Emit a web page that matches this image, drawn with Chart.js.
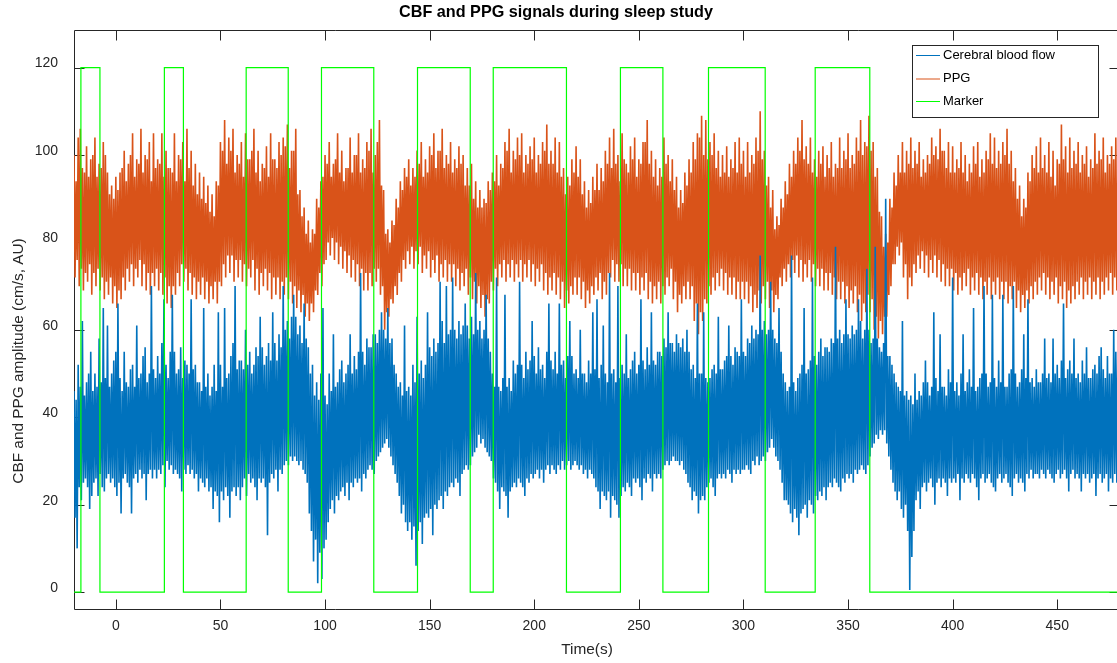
<!DOCTYPE html>
<html>
<head>
<meta charset="utf-8">
<script src="https://cdn.jsdelivr.net/npm/chart.js@4.4.1/dist/chart.umd.min.js"></script>
<style>
  html, body { margin: 0; padding: 0; background: #fff; overflow: hidden; }
  canvas { display: block; }
</style>
</head>
<body>
<canvas id="c" width="1124" height="663"></canvas>
<script>
// signal envelopes: one peak + one trough per second, from t = -20 s
const sampleStart = -20;
const sampleStep = 1;

const ppgPeaks = [
  100, 94, 104, 106, 97, 96, 102, 95, 99, 100, 104, 95, 98, 97, 103, 100, 96, 91, 93, 90,
  95, 92, 96, 97, 101, 94, 98, 100, 105, 95, 99, 98, 106, 96, 100, 99, 103, 94, 105, 97,
  99, 98, 105, 95, 101, 97, 97, 96, 105, 94, 100, 99, 103, 94, 106, 97, 101, 93, 98, 91,
  96, 90, 95, 89, 93, 87, 91, 86, 94, 93, 103, 101, 108, 98, 104, 101, 106, 96, 100, 98,
  103, 95, 105, 99, 99, 101, 106, 96, 101, 94, 98, 97, 102, 95, 105, 99, 99, 97, 103, 100,
  104, 102, 107, 97, 101, 101, 106, 91, 92, 86, 88, 82, 85, 80, 83, 82, 90, 88, 94, 95,
  100, 98, 103, 95, 98, 99, 105, 96, 101, 94, 97, 97, 104, 96, 100, 100, 105, 96, 99, 97,
  103, 101, 106, 96, 100, 103, 108, 93, 92, 82, 83, 80, 85, 84, 90, 88, 94, 92, 97, 95,
  99, 93, 97, 95, 101, 98, 103, 95, 99, 96, 102, 100, 105, 97, 101, 101, 106, 97, 100, 98,
  103, 96, 99, 97, 102, 98, 100, 93, 97, 93, 98, 90, 94, 88, 92, 88, 90, 89, 94, 92,
  96, 94, 100, 93, 98, 97, 103, 101, 106, 96, 101, 99, 104, 100, 105, 96, 100, 98, 102, 99,
  104, 96, 100, 98, 103, 101, 107, 98, 101, 98, 104, 96, 103, 95, 97, 91, 95, 93, 99, 96,
  102, 95, 99, 91, 94, 88, 92, 89, 95, 92, 98, 92, 97, 94, 101, 98, 104, 97, 106, 98,
  100, 94, 105, 99, 98, 96, 102, 99, 104, 95, 99, 98, 103, 103, 108, 98, 101, 95, 99, 93,
  97, 95, 104, 98, 100, 94, 99, 92, 95, 88, 92, 89, 96, 93, 99, 96, 103, 99, 105, 104,
  109, 100, 108, 99, 103, 100, 105, 97, 101, 95, 100, 96, 102, 95, 99, 97, 103, 96, 104, 98,
  101, 95, 103, 96, 100, 98, 104, 101, 110, 99, 101, 93, 95, 88, 92, 83, 86, 84, 90, 88,
  94, 91, 98, 95, 101, 98, 104, 101, 108, 99, 102, 98, 104, 96, 99, 95, 101, 98, 102, 95,
  100, 97, 103, 95, 98, 97, 104, 97, 101, 99, 105, 97, 100, 98, 104, 101, 108, 100, 103, 102,
  109, 101, 103, 95, 97, 87, 86, 79, 82, 80, 90, 88, 96, 93, 100, 96, 103, 96, 101, 98,
  104, 97, 101, 98, 103, 95, 99, 96, 100, 98, 104, 100, 102, 99, 106, 101, 101, 97, 103, 96,
  102, 96, 99, 97, 103, 96, 100, 94, 98, 96, 102, 98, 103, 95, 99, 96, 101, 99, 105, 98,
  104, 97, 101, 98, 103, 100, 106, 98, 101, 94, 97, 90, 93, 86, 90, 88, 96, 94, 100, 97,
  102, 96, 104, 97, 100, 96, 103, 95, 101, 93, 99, 98, 107, 99, 102, 96, 104, 97, 101, 98,
  103, 96, 100, 98, 102, 95, 99, 97, 105, 98, 101, 99, 104, 96, 100, 98, 102, 99, 104, 98
];
const ppgTroughs = [
  72, 76, 70, 74, 69, 73, 71, 75, 68, 73, 70, 74, 69, 72, 67, 71, 68, 72, 66, 70,
  65, 69, 67, 72, 69, 74, 71, 75, 70, 74, 72, 76, 70, 75, 69, 73, 68, 73, 70, 74,
  69, 73, 68, 72, 66, 70, 65, 70, 68, 73, 70, 75, 71, 74, 69, 73, 68, 72, 67, 71,
  68, 72, 67, 71, 66, 70, 67, 71, 66, 71, 70, 75, 72, 77, 73, 77, 71, 76, 72, 76,
  71, 75, 70, 74, 72, 76, 69, 74, 68, 73, 70, 74, 69, 73, 67, 72, 68, 72, 67, 71,
  68, 72, 67, 71, 66, 70, 65, 69, 64, 68, 63, 66, 62, 66, 64, 69, 68, 73, 70, 75,
  76, 80, 77, 81, 76, 80, 75, 79, 74, 78, 73, 77, 72, 76, 71, 75, 70, 74, 69, 73,
  69, 73, 70, 74, 71, 74, 68, 70, 60, 64, 63, 67, 66, 70, 68, 73, 71, 76, 74, 78,
  75, 79, 74, 78, 75, 79, 73, 77, 74, 78, 72, 76, 73, 77, 71, 75, 72, 76, 71, 75,
  71, 75, 70, 74, 69, 73, 70, 74, 68, 72, 67, 71, 66, 70, 65, 68, 63, 67, 66, 71,
  69, 74, 70, 75, 72, 76, 71, 75, 72, 76, 71, 75, 72, 76, 71, 75, 72, 76, 71, 75,
  70, 74, 71, 75, 69, 73, 68, 72, 69, 73, 68, 72, 67, 71, 65, 69, 66, 70, 68, 72,
  68, 72, 67, 71, 65, 69, 66, 70, 68, 72, 69, 73, 67, 71, 68, 73, 72, 76, 71, 75,
  71, 75, 70, 74, 70, 74, 69, 73, 69, 73, 68, 72, 69, 73, 67, 71, 66, 70, 67, 71,
  66, 70, 68, 72, 70, 74, 67, 71, 64, 68, 66, 70, 67, 71, 67, 70, 62, 66, 59, 64,
  62, 67, 66, 70, 68, 72, 69, 73, 70, 74, 69, 73, 68, 72, 68, 72, 67, 71, 67, 71,
  67, 71, 66, 70, 64, 68, 65, 69, 66, 70, 67, 71, 65, 69, 64, 68, 67, 72, 70, 74,
  71, 75, 72, 76, 73, 77, 72, 76, 71, 75, 72, 76, 71, 75, 70, 74, 70, 74, 69, 73,
  69, 73, 68, 72, 67, 71, 67, 71, 66, 70, 65, 69, 66, 70, 64, 68, 62, 66, 64, 68,
  64, 67, 60, 63, 58, 62, 59, 63, 63, 68, 70, 75, 75, 79, 77, 80, 72, 75, 67, 72,
  70, 75, 73, 77, 74, 78, 73, 77, 72, 76, 73, 77, 72, 76, 71, 75, 70, 74, 70, 74,
  69, 73, 68, 72, 69, 73, 70, 74, 68, 72, 69, 73, 68, 72, 67, 71, 68, 72, 67, 71,
  68, 72, 67, 71, 67, 71, 66, 70, 67, 71, 65, 69, 64, 68, 65, 69, 66, 70, 67, 71,
  68, 72, 69, 73, 68, 72, 67, 71, 68, 72, 66, 70, 67, 71, 65, 69, 66, 70, 67, 71,
  68, 72, 67, 71, 68, 72, 67, 71, 68, 72, 67, 71, 68, 72, 69, 73, 68, 72, 69, 73
];
const cbfPeaks = [
  46, 44, 52, 47, 62, 45, 48, 50, 55, 46, 50, 47, 58, 48, 65, 49, 61, 47, 50, 53,
  55, 66, 49, 46, 55, 48, 47, 51, 52, 47, 61, 49, 50, 54, 56, 48, 50, 70, 51, 49,
  54, 50, 57, 67, 52, 49, 55, 68, 55, 50, 51, 56, 49, 53, 52, 50, 67, 51, 52, 48,
  48, 46, 65, 47, 50, 45, 47, 52, 46, 64, 52, 47, 65, 49, 50, 54, 57, 70, 51, 53,
  53, 51, 60, 52, 55, 50, 52, 56, 54, 63, 56, 52, 54, 57, 53, 64, 57, 53, 59, 56,
  70, 60, 62, 58, 63, 68, 63, 59, 61, 57, 66, 58, 56, 50, 52, 45, 48, 44, 50, 65,
  45, 43, 50, 46, 59, 47, 48, 51, 53, 48, 50, 52, 59, 50, 54, 51, 55, 73, 55, 52,
  58, 56, 56, 59, 59, 57, 60, 64, 60, 58, 65, 57, 58, 52, 50, 47, 48, 45, 61, 46,
  47, 45, 52, 48, 63, 50, 53, 49, 52, 64, 56, 54, 58, 55, 57, 71, 62, 57, 70, 59,
  60, 72, 60, 58, 62, 59, 61, 66, 61, 58, 63, 59, 73, 60, 62, 58, 60, 68, 58, 55,
  50, 47, 72, 47, 46, 49, 68, 47, 49, 46, 53, 50, 52, 71, 52, 49, 55, 51, 53, 62,
  54, 50, 56, 51, 52, 49, 55, 66, 53, 51, 55, 50, 66, 52, 53, 49, 54, 62, 54, 50,
  51, 49, 60, 50, 50, 48, 53, 50, 64, 51, 67, 49, 52, 61, 50, 48, 73, 50, 51, 48,
  70, 49, 52, 50, 59, 49, 51, 53, 55, 50, 52, 67, 53, 51, 56, 52, 64, 53, 52, 55,
  55, 54, 58, 56, 64, 57, 57, 55, 59, 57, 56, 58, 55, 60, 55, 51, 52, 49, 66, 50,
  50, 64, 49, 48, 49, 51, 52, 50, 63, 51, 51, 53, 54, 61, 54, 52, 56, 55, 54, 67,
  55, 54, 58, 57, 61, 58, 60, 59, 77, 60, 62, 59, 60, 71, 60, 58, 57, 65, 55, 50,
  48, 46, 47, 77, 48, 46, 49, 50, 52, 65, 50, 51, 53, 72, 54, 52, 55, 58, 54, 56,
  56, 55, 58, 57, 79, 58, 60, 57, 59, 67, 59, 58, 61, 59, 60, 67, 62, 58, 60, 74,
  60, 57, 58, 79, 58, 56, 55, 57, 90, 54, 54, 52, 50, 48, 47, 46, 62, 45, 46, 44,
  45, 43, 50, 44, 46, 45, 48, 53, 48, 45, 47, 64, 49, 46, 59, 47, 47, 45, 51, 48,
  72, 46, 48, 45, 50, 59, 46, 48, 51, 47, 65, 46, 47, 49, 50, 70, 50, 47, 48, 68,
  49, 47, 53, 48, 68, 47, 47, 50, 51, 70, 50, 47, 48, 51, 59, 49, 67, 48, 49, 47,
  51, 48, 48, 50, 58, 49, 50, 48, 58, 50, 52, 49, 53, 66, 49, 51, 53, 50, 58, 49,
  50, 48, 53, 50, 56, 49, 49, 51, 52, 50, 54, 56, 51, 49, 54, 50, 50, 60, 55, 57
];
const cbfTroughs = [
  17, 10, 24, 21, 25, 26, 24, 19, 22, 25, 26, 22, 27, 24, 23, 26, 27, 25, 26, 24,
  22, 25, 18, 26, 27, 25, 24, 18, 26, 27, 25, 28, 26, 27, 21, 27, 28, 26, 28, 26,
  28, 27, 29, 24, 30, 28, 29, 27, 28, 27, 26, 23, 28, 27, 29, 27, 28, 26, 27, 23,
  26, 25, 24, 26, 23, 24, 19, 23, 22, 16, 23, 21, 24, 22, 17, 23, 24, 22, 24, 21,
  24, 26, 22, 27, 25, 26, 24, 21, 26, 25, 26, 24, 13, 25, 27, 26, 28, 23, 28, 27,
  29, 30, 29, 31, 30, 31, 30, 29, 30, 28, 27, 25, 18, 14, 7, 12, 2, 9, 3, 10,
  12, 16, 19, 21, 18, 22, 21, 23, 24, 22, 25, 21, 25, 24, 26, 25, 26, 23, 27, 26,
  28, 29, 28, 27, 30, 31, 32, 33, 34, 35, 33, 31, 29, 27, 25, 22, 18, 20, 16, 14,
  16, 12, 15, 6, 14, 16, 11, 17, 18, 17, 19, 13, 20, 19, 21, 22, 19, 23, 22, 24,
  25, 24, 26, 25, 22, 27, 28, 29, 28, 29, 31, 32, 33, 36, 34, 35, 33, 32, 31, 30,
  26, 25, 23, 19, 24, 23, 22, 17, 23, 24, 25, 24, 26, 25, 24, 22, 26, 25, 27, 26,
  27, 28, 26, 28, 25, 28, 29, 27, 29, 28, 27, 29, 28, 30, 28, 29, 30, 28, 29, 30,
  29, 28, 29, 27, 28, 26, 28, 27, 26, 24, 23, 19, 23, 22, 21, 23, 17, 22, 21, 20,
  17, 22, 24, 23, 25, 24, 22, 26, 25, 26, 24, 21, 26, 25, 27, 26, 23, 27, 26, 27,
  26, 28, 29, 30, 29, 30, 31, 30, 30, 29, 30, 28, 27, 25, 24, 21, 23, 22, 18, 21,
  22, 21, 24, 25, 26, 24, 22, 26, 27, 26, 27, 26, 28, 27, 25, 28, 27, 28, 27, 28,
  28, 29, 28, 27, 30, 29, 31, 29, 30, 31, 30, 32, 33, 35, 33, 31, 30, 28, 25, 21,
  21, 20, 18, 16, 19, 17, 13, 18, 19, 20, 17, 21, 20, 18, 22, 21, 23, 22, 24, 21,
  24, 25, 24, 26, 25, 24, 23, 26, 25, 27, 26, 27, 25, 28, 27, 28, 29, 28, 27, 29,
  31, 33, 34, 36, 35, 37, 36, 37, 34, 31, 28, 25, 23, 21, 23, 19, 17, 20, 14, 0.5,
  8, 14, 21, 23, 19, 24, 25, 23, 25, 26, 24, 20, 25, 26, 24, 26, 25, 22, 26, 25,
  26, 25, 27, 21, 26, 25, 27, 26, 25, 27, 26, 24, 21, 26, 27, 25, 26, 27, 25, 24,
  23, 26, 27, 25, 26, 27, 25, 24, 22, 26, 27, 25, 26, 25, 23, 27, 26, 28, 26, 27,
  27, 26, 28, 27, 26, 28, 27, 26, 25, 27, 28, 26, 27, 28, 26, 23, 27, 28, 26, 27,
  26, 23, 27, 26, 27, 25, 26, 27, 22, 26, 27, 25, 26, 27, 23, 26, 25, 27, 25, 26
];

// marker square wave: switch times (s), starts low
const markerEdges = [-16.7, -7.6, 23.2, 32.3, 62.3, 82.4, 98.3, 123.3, 144.2,
  169.4, 180.4, 215.4, 241.2, 261.5, 283.3, 310.4, 334.3, 360.4];
const markerLevels = [0, 120];

const xTicks = [0, 50, 100, 150, 200, 250, 300, 350, 400, 450];
const yTicks = [0, 20, 40, 60, 80, 100, 120];

const seriesNames = ['Cerebral blood flow', 'PPG', 'Marker'];
const seriesColors = ['#0072BD', '#D95319', '#00FF00'];

const FONT = '"Liberation Sans", Arial, Helvetica, sans-serif';
const AXIS_COLOR = '#262626';

function zigzag(peaks, troughs) {
  const pts = [];
  for (let i = 0; i < peaks.length; i++) {
    const t = sampleStart + i * sampleStep;
    pts.push({ x: t, y: peaks[i] });
    pts.push({ x: t + sampleStep / 2, y: troughs[i] });
  }
  return pts;
}

function squareWave() {
  let level = 0;
  const pts = [{ x: -20, y: markerLevels[level] }];
  markerEdges.forEach(e => {
    pts.push({ x: e, y: markerLevels[level] });
    level = 1 - level;
    pts.push({ x: e, y: markerLevels[level] });
  });
  pts.push({ x: 480, y: markerLevels[level] });
  return pts;
}

const frame = {
  id: 'frame',
  beforeDatasetsDraw(chart) {
    const { ctx, chartArea: a, scales } = chart;
    ctx.save();
    ctx.strokeStyle = AXIS_COLOR;
    ctx.lineWidth = 1;
    ctx.beginPath();
    ctx.rect(a.left + 0.5, a.top + 0.5, a.right - a.left - 1, a.bottom - a.top - 1);
    xTicks.forEach(v => {
      const px = Math.round(scales.x.getPixelForValue(v)) + 0.5;
      ctx.moveTo(px, a.bottom); ctx.lineTo(px, a.bottom - 10.5);
      ctx.moveTo(px, a.top); ctx.lineTo(px, a.top + 10.5);
    });
    yTicks.forEach(v => {
      const py = Math.round(scales.y.getPixelForValue(v)) + 0.5;
      ctx.moveTo(a.left, py); ctx.lineTo(a.left + 10.5, py);
      ctx.moveTo(a.right, py); ctx.lineTo(a.right - 10.5, py);
    });
    ctx.stroke();
    ctx.restore();
  },
  afterDraw(chart) {
    const ctx = chart.ctx;
    ctx.save();
    ctx.fillStyle = '#000';
    ctx.textAlign = 'center';
    ctx.textBaseline = 'middle';
    ctx.font = 'bold 16.2px ' + FONT;
    ctx.fillText('CBF and PPG signals during sleep study', 556, 13);

    ctx.fillStyle = AXIS_COLOR;
    ctx.font = '15.4px ' + FONT;
    ctx.fillText('Time(s)', 587, 650);

    ctx.save();
    ctx.translate(23, 361);
    ctx.rotate(-Math.PI / 2);
    ctx.textBaseline = 'alphabetic';
    ctx.fillText('CBF and PPG amplitude (cm/s, AU)', 0, 0);
    ctx.restore();

    // legend box
    ctx.fillStyle = '#fff';
    ctx.fillRect(912.5, 45.5, 186, 72);
    ctx.strokeStyle = AXIS_COLOR;
    ctx.lineWidth = 1;
    ctx.strokeRect(912.5, 45.5, 186, 72);
    const rows = [55, 78.5, 101];
    ctx.font = '13px ' + FONT;
    ctx.textAlign = 'left';
    seriesNames.forEach((name, i) => {
      ctx.strokeStyle = seriesColors[i];
      ctx.beginPath();
      ctx.moveTo(916, rows[i] + 0.5);
      ctx.lineTo(940, rows[i] + 0.5);
      ctx.stroke();
      ctx.fillStyle = '#000';
      ctx.fillText(name, 943, rows[i]);
    });
    ctx.restore();
  }
};

const lineStyle = { pointRadius: 0, tension: 0, fill: false };

new Chart(document.getElementById('c'), {
  type: 'line',
  data: {
    datasets: [
      Object.assign({ label: seriesNames[2], data: squareWave(), borderColor: seriesColors[2], borderWidth: 1.2 }, lineStyle),
      Object.assign({ label: seriesNames[0], data: zigzag(cbfPeaks, cbfTroughs), borderColor: seriesColors[0], borderWidth: 1.6 }, lineStyle),
      Object.assign({ label: seriesNames[1], data: zigzag(ppgPeaks, ppgTroughs), borderColor: seriesColors[1], borderWidth: 1.6 }, lineStyle)
    ]
  },
  options: {
    responsive: false,
    animation: false,
    events: [],
    layout: { padding: { top: 30, right: 4, left: 0, bottom: 0 } },
    plugins: { legend: { display: false }, title: { display: false }, tooltip: { enabled: false } },
    scales: {
      x: {
        type: 'linear', min: -20, max: 480,
        grid: { display: false, drawTicks: false },
        border: { display: false },
        ticks: { font: { family: FONT, size: 14 }, color: AXIS_COLOR, padding: 8, maxRotation: 0, autoSkip: false },
        afterBuildTicks: s => { s.ticks = xTicks.map(v => ({ value: v })); },
        afterFit: s => { s.height = 53; }
      },
      y: {
        type: 'linear', min: -4.1, max: 128.6,
        grid: { display: false, drawTicks: false },
        border: { display: false },
        ticks: { font: { family: FONT, size: 14 }, color: AXIS_COLOR, padding: 16, labelOffset: -4, autoSkip: false },
        afterBuildTicks: s => { s.ticks = yTicks.map(v => ({ value: v })); },
        afterFit: s => { s.width = 74; }
      }
    }
  },
  plugins: [frame]
});
</script>
</body>
</html>
